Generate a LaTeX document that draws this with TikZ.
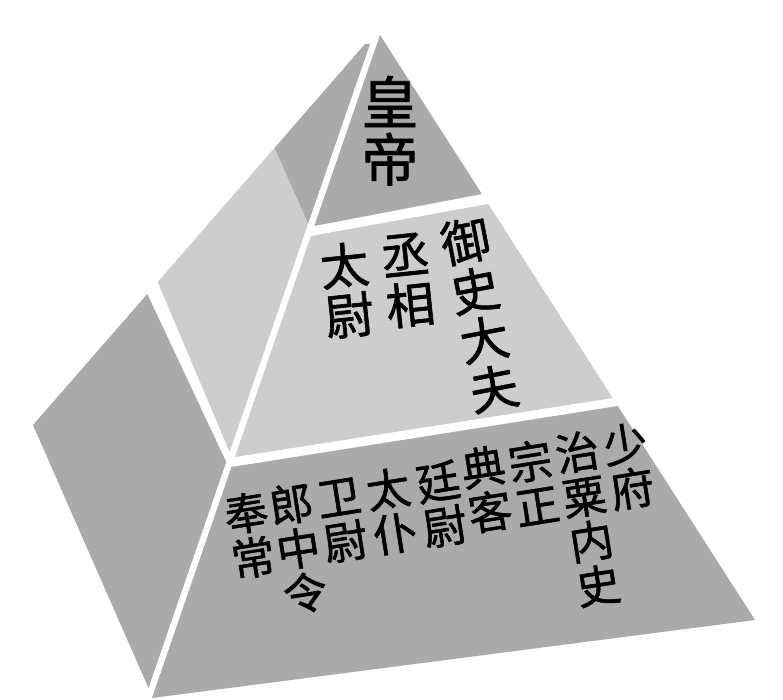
\documentclass[tikz,border=0pt]{standalone}
\usepackage{fontspec}
\newfontfamily\cjk[FakeBold=1.2]{Noto Sans CJK SC}
\definecolor{facedark}{HTML}{AAAAAA}
\definecolor{facelight}{HTML}{CDCDCD}
\begin{document}
\begin{tikzpicture}[x=1pt,y=-1pt,
  dark/.style={fill=facedark,draw=none},
  light/.style={fill=facelight,draw=none},
  col/.style={inner sep=0pt,outer sep=0pt,align=center,anchor=north},
  colT/.style={col,font=\cjk\fontsize{57pt}{57pt}\selectfont},
  colM/.style={col,font=\cjk\fontsize{49pt}{50pt}\selectfont},
  colB/.style={col,font=\cjk\fontsize{44pt}{45pt}\selectfont,rotate=9},
]
\useasboundingbox (0,0) rectangle (783,700);
% left face
\fill[dark]  (365,44) -- (370,44) -- (308,224) -- (274.4,148) -- cycle;
\fill[light] (274.4,148) -- (308,224) -- (229.6,452) -- (157.7,282) -- cycle;
\fill[dark]  (147.3,294) -- (226.2,462) -- (148.5,688) -- (33,425) -- cycle;
% front face
\fill[dark]  (380,35) -- (314.3,226) -- (481.9,194) -- cycle;
\fill[light] (310.9,236) -- (488.3,204) -- (612.7,398) -- (234.8,457) -- cycle;
\fill[dark]  (231.4,467) -- (617.8,406) -- (755,620) -- (152,698) -- cycle;
% top tier
\node[colT] (hd) at (390,76) {皇\\帝};
% middle tier
\node[colM,rotate=6] (tw) at (342,243) {太\\尉};
\node[colM,rotate=6] (cx) at (403,234) {丞\\相};
\node[colM,rotate=11] (ys) at (461,219) {御\\史\\大\\夫};
% bottom tier
\node[colB] (fc) at (243,493) {奉\\常};
\node[colB] (lz) at (288,484) {郎\\中\\令};
\node[colB] (ww) at (336,480) {卫\\尉};
\node[colB] (tp) at (385,469) {太\\仆};
\node[colB] (tingw) at (435,462) {廷\\尉};
\node[colB] (dk) at (480,447) {典\\客};
\node[colB] (zz) at (527,441) {宗\\正};
\node[colB] (zs) at (574,432) {治\\粟\\内\\史};
\node[colB] (sf) at (622,424) {少\\府};
\end{tikzpicture}
\end{document}
